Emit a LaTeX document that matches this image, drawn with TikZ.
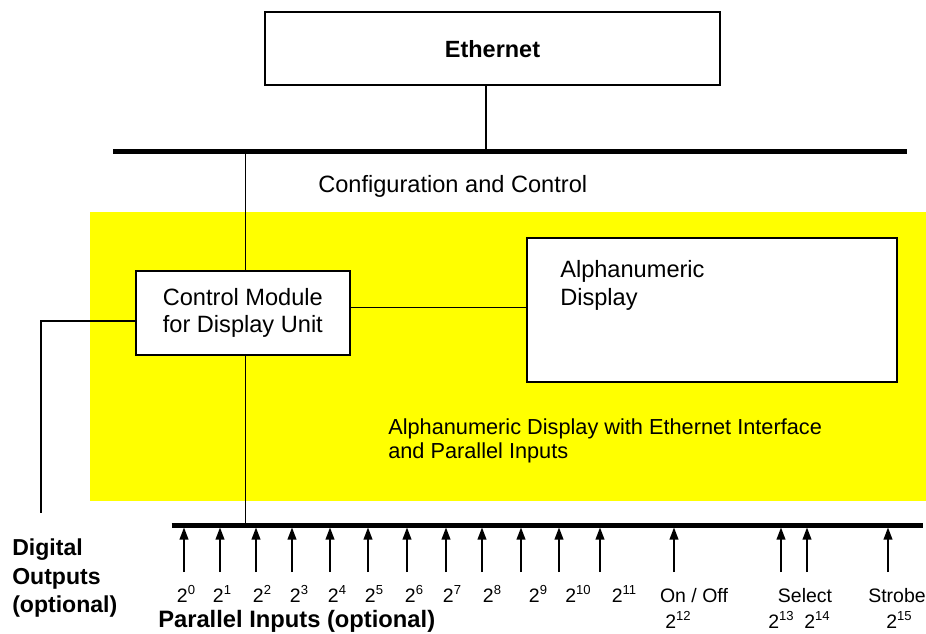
\documentclass[tikz,border=0pt]{standalone}
\usepackage{fontspec}
\setmainfont{Liberation Sans}
\usetikzlibrary{arrows.meta}
\definecolor{ylw}{RGB}{255,255,0}
\newcommand\pw[1]{2\raisebox{0.42em}{\fontsize{9.8}{9.8}\selectfont #1}}
\begin{document}
\begin{tikzpicture}[x=0.75pt,y=-0.75pt,
  conn/.style={line width=1.2pt},
  busline/.style={line width=3.6pt},
  blk/.style={draw, line width=1.6pt, fill=white, inner sep=0pt},
  arr/.style={line width=1.2pt, -{Triangle[length=9pt,width=6.5pt]}},
  txt/.style={inner sep=0pt, font=\fontsize{17.7}{20.25}\selectfont},
  lbl/.style={inner sep=0pt, anchor=base, font=\fontsize{14.6}{17}\selectfont}]
\useasboundingbox (0,0) rectangle (926,633);
\fill[ylw] (90,211.7) rectangle (926,500.5);

% boxes
\node[blk, minimum width=341.25pt, minimum height=54.75pt,
      font=\bfseries\fontsize{17.6}{20}\selectfont] (eth) at (492.5,48.7) {Ethernet};
\node[blk, minimum width=160.5pt, minimum height=63pt, align=center,
      font=\fontsize{17.7}{20.25}\selectfont] (ctrl) at (242.85,313) {Control Module\\for Display Unit};
\node[blk, minimum width=277.5pt, minimum height=107.8pt] (alpha) at (712,309.85) {};
\node[txt, anchor=north west, align=left, font=\fontsize{17.7}{21}\selectfont] (alphatxt) at (560,260.5) {Alphanumeric\\Display};

% texts
\node[txt, anchor=base west] (cfg) at (318,192) {Configuration and Control};
\node[inner sep=0pt, anchor=north west, align=left, font=\fontsize{16.3}{17.5}\selectfont] (ytxt) at (388,418.8) {Alphanumeric Display with Ethernet Interface\\and Parallel Inputs};
\node[inner sep=0pt, anchor=north west, align=left, font=\bfseries\fontsize{17.3}{21.6}\selectfont] (dig) at (12,538.3) {Digital\\Outputs\\(optional)};
\node[inner sep=0pt, anchor=base west, font=\bfseries\fontsize{17.8}{20}\selectfont] (par) at (158,627.5) {Parallel Inputs (optional)};

% connectors
\coordinate (etap) at (486,151.7);
\draw[conn] (eth.south -| etap) -- (etap);
\coordinate (ctap) at (245.5,151.7);
\draw[conn] (ctap) -- (ctap |- ctrl.north);
\coordinate (btap) at (245.5,525.2);
\draw[conn] (ctrl.south -| btap) -- (btap);
\coordinate (mid) at (0,307.5);
\draw[conn] (mid -| ctrl.east) -- (mid -| alpha.west);
\coordinate (dl) at (40.7,321);
\coordinate (dout) at (40.7,513);
\draw[conn] (dl -| ctrl.west) -- (dl) -- (dout);

% buses
\coordinate (tbL) at (113,151.7);
\coordinate (tbR) at (906.7,151.7);
\draw[busline] (tbL) -- (tbR);
\coordinate (bbL) at (171.7,525.2);
\coordinate (bbR) at (923,525.2);
\draw[busline, line width=3.75pt] (bbL) -- (bbR);

% input arrows
\foreach \x [count=\i] in {184,220,256,292,330,368,407,446,482,521,559,600,674,781,807,888} {
  \coordinate (in\i) at (\x,572);
  \coordinate (tip\i) at (\x,527.5);
  \draw[arr] (in\i) -- (tip\i);
}

% labels
\foreach \x/\e in {186/0,222/1,262/2,299/3,337/4,374/5,414/6,452/7,492/8,538/9,578/10,624/11}
  \node[lbl] (p\e) at (\x,602.5) {\pw{\e}};
\node[lbl] (onoff) at (694,602.5) {On / Off};
\node[lbl] (p12) at (678,628.5) {\pw{12}};
\node[lbl] (sel) at (805,602.5) {Select};
\node[lbl] (p13) at (781,628.5) {\pw{13}};
\node[lbl] (p14) at (817,628.5) {\pw{14}};
\node[lbl] (strobe) at (897,602.5) {Strobe};
\node[lbl] (p15) at (899,628.5) {\pw{15}};
\end{tikzpicture}
\end{document}
